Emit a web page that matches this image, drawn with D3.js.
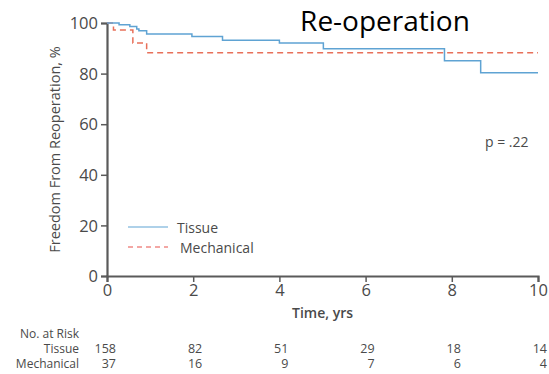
<!DOCTYPE html>
<html>
<head>
<meta charset="utf-8">
<script src="https://cdn.jsdelivr.net/npm/d3@7"></script>
<style>
  body { margin: 0; background: #fff; }
  text { font-family: "Open Sans", "Noto Sans", sans-serif; fill: #4a4a4a; }
</style>
</head>
<body>
<script>
// Kaplan-Meier steps: [time in yrs, freedom %]
var tissue = [[0, 100], [0.28, 99.3], [0.53, 98.6], [0.69, 97.6], [0.74, 96.9], [0.92, 95.7],
              [1.97, 94.7], [2.68, 93.2], [4.0, 92.1], [5.02, 89.8], [7.83, 85.1], [8.67, 80.3], [10, 80.3]];
var mechanical = [[0, 100], [0.15, 97.2], [0.6, 92.1], [0.92, 88.2], [10, 88.2]];

var xTicks = [0, 2, 4, 6, 8, 10];
var yTicks = [0, 20, 40, 60, 80, 100];
var riskTissue = [158, 82, 51, 29, 18, 14];
var riskMechanical = [37, 16, 9, 7, 6, 4];

var width = 549, height = 374;
var margin = {top: 23, left: 107, right: 11, bottom: 98};

var svg = d3.select("body").append("svg")
    .attr("width", width)
    .attr("height", height);

var x = d3.scaleLinear().domain([0, 10]).range([margin.left, width - margin.right]);
var y = d3.scaleLinear().domain([0, 100]).range([height - margin.bottom, margin.top]);

var line = d3.line()
    .x(function(d) { return x(d[0]); })
    .y(function(d) { return y(d[1]); })
    .curve(d3.curveStepAfter);

// axes
var xAxis = svg.append("g")
    .attr("transform", "translate(0," + y(0) + ")")
    .call(d3.axisBottom(x).tickValues(xTicks).tickSize(6).tickPadding(2));
var yAxis = svg.append("g")
    .attr("transform", "translate(" + x(0) + ",0)")
    .call(d3.axisLeft(y).tickValues(yTicks).tickSize(6).tickPadding(3));

[xAxis, yAxis].forEach(function(g) {
    g.select(".domain").attr("stroke", "#5a5a5a").attr("stroke-width", 2.2);
    g.selectAll(".tick line").attr("stroke", "#5a5a5a").attr("stroke-width", 1.5);
    g.selectAll(".tick text").style("font-size", "16.5px").attr("fill", "#4a4a4a");
});
yAxis.selectAll(".tick text").attr("dy", "0.35em");

svg.append("path")
    .datum(mechanical)
    .attr("fill", "none")
    .attr("stroke", "#e8705a")
    .attr("stroke-width", 1.5)
    .attr("stroke-dasharray", "6,4")
    .attr("d", line);

svg.append("path")
    .datum(tissue)
    .attr("fill", "none")
    .attr("stroke", "#5fa3d3")
    .attr("stroke-width", 1.5)
    .attr("d", line);

// axis titles
svg.append("text")
    .attr("transform", "translate(56," + y(50) + ") rotate(-90)")
    .attr("text-anchor", "middle")
    .attr("dominant-baseline", "middle")
    .style("font-size", "14.5px")
    .text("Freedom From Reoperation, %");

svg.append("text")
    .attr("x", x(5))
    .attr("y", 318)
    .attr("text-anchor", "middle")
    .style("font-size", "14px")
    .style("font-weight", "600")
    .text("Time, yrs");

svg.append("text")
    .attr("x", 385)
    .attr("y", 31)
    .attr("text-anchor", "middle")
    .style("font-size", "28px")
    .style("fill", "#000")
    .text("Re-operation");

svg.append("text")
    .attr("x", 485)
    .attr("y", 147)
    .style("font-size", "14px")
    .text("p = .22");

// legend
var legend = [
    {name: "Tissue", color: "#5fa3d3", dash: null, y: 227, tx: 177},
    {name: "Mechanical", color: "#e8504a", dash: "5,4", y: 247, tx: 180}
];
legend.forEach(function(d) {
    svg.append("line")
        .attr("x1", 128).attr("x2", 168)
        .attr("y1", d.y).attr("y2", d.y)
        .attr("stroke", d.color)
        .attr("stroke-width", 1.2)
        .attr("stroke-dasharray", d.dash);
    svg.append("text")
        .attr("x", d.tx)
        .attr("y", d.y + 6)
        .style("font-size", "14px")
        .text(d.name);
});

// number at risk table
svg.append("text").attr("x", 79).attr("y", 338).attr("text-anchor", "end")
    .style("font-size", "12px").text("No. at Risk");
svg.append("text").attr("x", 79).attr("y", 353).attr("text-anchor", "end")
    .style("font-size", "12px").text("Tissue");
svg.append("text").attr("x", 79).attr("y", 368).attr("text-anchor", "end")
    .style("font-size", "12px").text("Mechanical");

svg.append("g").selectAll("text")
    .data(riskTissue).enter().append("text")
    .attr("x", function(d, i) { return x(xTicks[i]) + 9; })
    .attr("y", 353)
    .attr("text-anchor", "end")
    .style("font-size", "12.5px")
    .text(function(d) { return d; });

svg.append("g").selectAll("text")
    .data(riskMechanical).enter().append("text")
    .attr("x", function(d, i) { return x(xTicks[i]) + 9; })
    .attr("y", 368)
    .attr("text-anchor", "end")
    .style("font-size", "12.5px")
    .text(function(d) { return d; });
</script>
</body>
</html>
